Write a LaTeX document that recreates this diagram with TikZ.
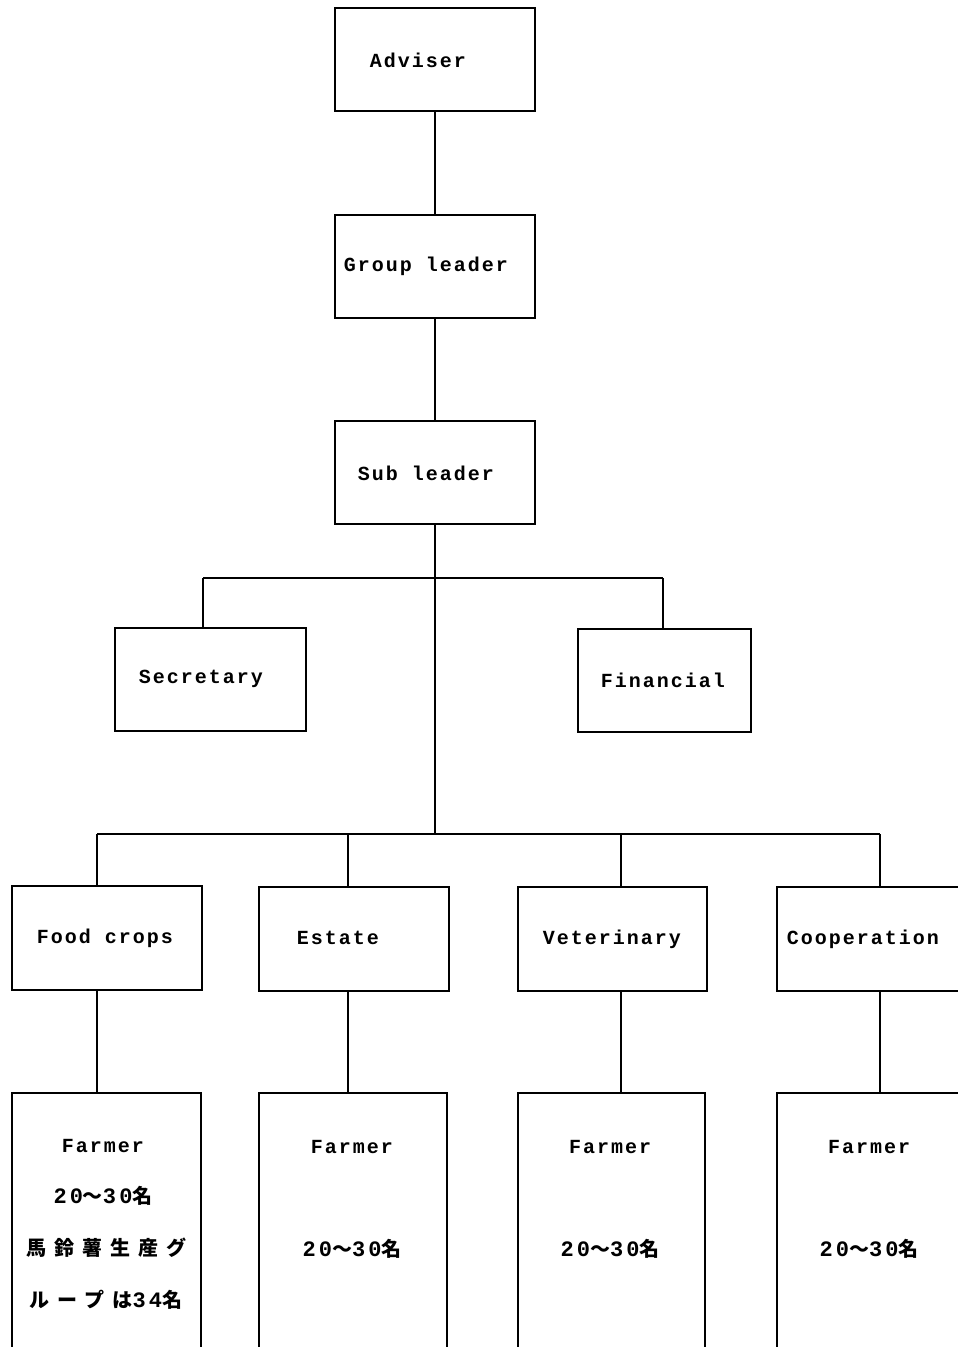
\documentclass[tikz,border=0pt]{standalone}
\usepackage{fontspec}
\newfontfamily\monof{Liberation Mono}[LetterSpace=10]
\newfontfamily\digf{Liberation Mono}[LetterSpace=14]
\newfontfamily\cjkf{Noto Sans CJK JP}[LetterSpace=40]
\newcommand\dg[1]{{\digf\bfseries\fontsize{22}{24}\selectfont #1}}
\begin{document}
\begin{tikzpicture}[x=1pt,y=-1pt,
  box/.style={rectangle, draw, line width=1.1pt, inner sep=0pt, outer sep=0pt},
  lbl/.style={font=\monof\bfseries\fontsize{20}{24}\selectfont, inner sep=0pt},
  jp/.style={font=\cjkf\bfseries\fontsize{20}{24}\selectfont, inner sep=0pt},
  vline/.style={line width=2.8pt},
  hline/.style={line width=1.4pt},
  side/.style={line width=2.6pt}]
\useasboundingbox (0,0) rectangle (958,1347);
\clip (0,0) rectangle (958,1347);
\fill[white] (0,0) rectangle (958,1347);
% boxes
\node[box, minimum width=200, minimum height=103] (adv) at (435,59.5) {};
\node[box, minimum width=200, minimum height=103] (gl)  at (435,266.5) {};
\node[box, minimum width=200, minimum height=103] (sl)  at (435,472.5) {};
\node[box, minimum width=191, minimum height=103] (sec) at (210.5,679.5) {};
\node[box, minimum width=173, minimum height=103] (fin) at (664.5,680.5) {};
\node[box, minimum width=190, minimum height=104] (fc)  at (107,938) {};
\node[box, minimum width=190, minimum height=104] (est) at (354,939) {};
\node[box, minimum width=189, minimum height=104] (vet) at (612.5,939) {};
\node[box, minimum width=193, minimum height=104] (coo) at (873.5,939) {};
\node[box, minimum width=189, minimum height=267] (fa1) at (106.5,1226.5) {};
\node[box, minimum width=188, minimum height=267] (fa2) at (353,1226.5) {};
\node[box, minimum width=187, minimum height=267] (fa3) at (611.5,1226.5) {};
\node[box, minimum width=193, minimum height=267] (fa4) at (873.5,1226.5) {};
\foreach \b in {adv,gl,sl,sec,fin,fc,est,vet,coo,fa1,fa2,fa3,fa4}{
  \draw[side] (\b.north west) -- (\b.south west) (\b.north east) -- (\b.south east);
}
% labels
\node[lbl] (tadv) at (418,60) {Adviser};
\node[lbl] (tgl)  at (426,266) {Group leader};
\node[lbl] (tsl)  at (426,473) {Sub leader};
\node[lbl] (tsec) at (201,679) {Secretary};
\node[lbl] (tfin) at (663,680) {Financial};
\node[lbl] (tfc)  at (105,938) {Food crops};
\node[lbl] (test) at (338,938) {Estate};
\node[lbl] (tvet) at (612,939) {Veterinary};
\node[lbl] (tcoo) at (863,939) {Cooperation};
\node[lbl] (f1) at (103,1146) {Farmer};
\node[lbl] (f2) at (352,1147) {Farmer};
\node[lbl] (f3) at (610,1147) {Farmer};
\node[lbl] (f4) at (869,1147) {Farmer};
\node[jp] (n1) at (103,1196) {\dg{20}～\dg{30}名};
\node[jp] (n2) at (352,1249) {\dg{20}～\dg{30}名};
\node[jp] (n3) at (610,1249) {\dg{20}～\dg{30}名};
\node[jp] (n4) at (869,1249) {\dg{20}～\dg{30}名};
\node[jp] (j1) at (107,1248) {馬鈴薯生産グ};
\node[jp] (j2) at (106,1300) {ループは\dg{34}名};
% connectors
\draw[vline] (adv) -- (gl);
\draw[vline] (gl) -- (sl);
\coordinate (bus1) at (435,578);
\coordinate (bus2) at (435,834);
\coordinate (s1) at (203,578);
\coordinate (s2) at (663,578);
\draw[vline] (sl.south) -- (bus2);
\draw[hline] (s1) -- (s2);
\draw[vline] (s1) -- (s1 |- sec.north);
\draw[vline] (s2) -- (s2 |- fin.north);
\coordinate (b1) at (97,834);
\coordinate (b2) at (348,834);
\coordinate (b3) at (621,834);
\coordinate (b4) at (880,834);
\draw[hline] (b1) -- (b4);
\draw[vline] (b1) -- (b1 |- fc.north);
\draw[vline] (b2) -- (b2 |- est.north);
\draw[vline] (b3) -- (b3 |- vet.north);
\draw[vline] (b4) -- (b4 |- coo.north);
\draw[vline] (fc.south -| b1) -- (fa1.north -| b1);
\draw[vline] (est.south -| b2) -- (fa2.north -| b2);
\draw[vline] (vet.south -| b3) -- (fa3.north -| b3);
\draw[vline] (coo.south -| b4) -- (fa4.north -| b4);
\end{tikzpicture}
\end{document}
